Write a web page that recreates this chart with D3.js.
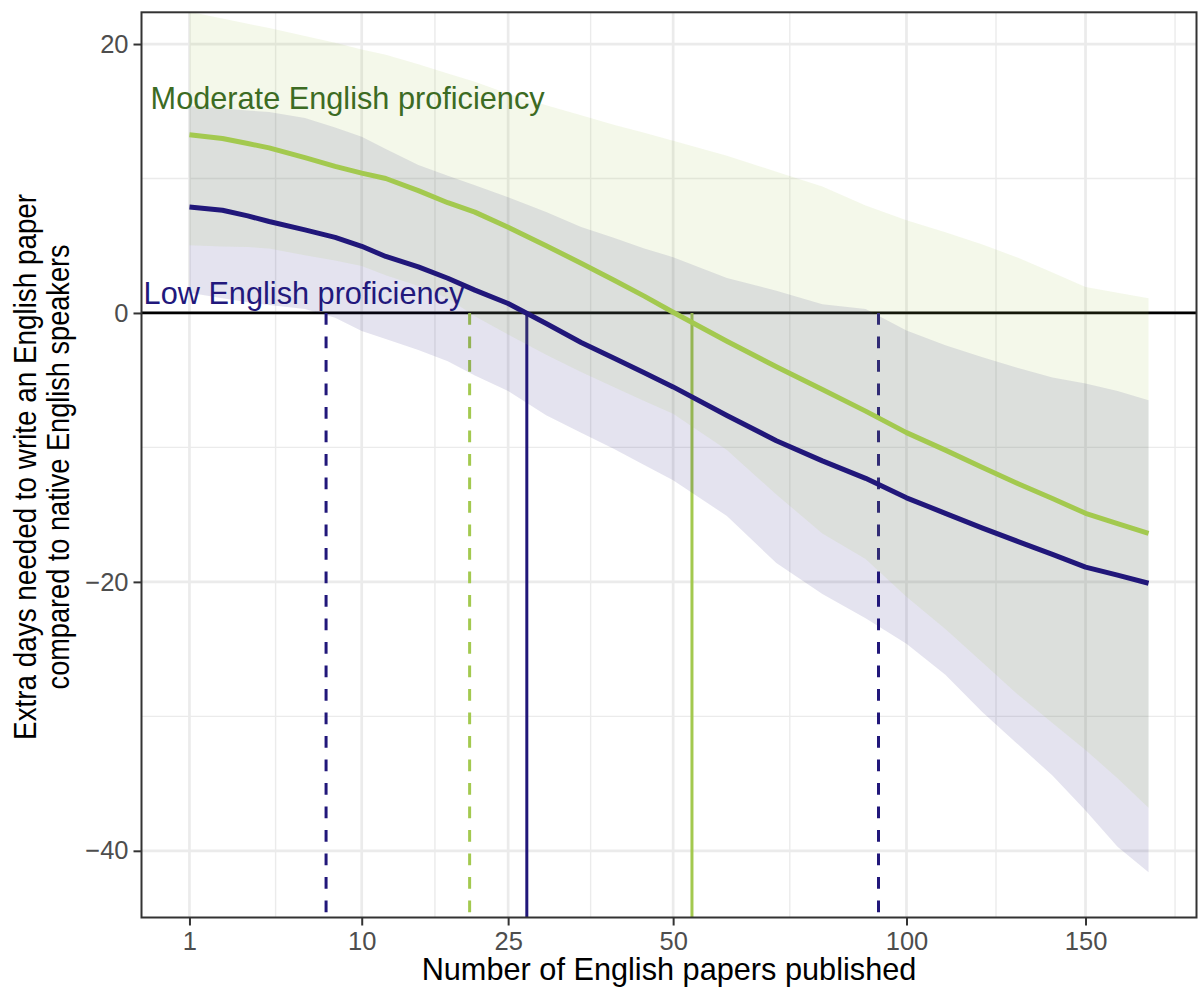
<!DOCTYPE html>
<html>
<head>
<meta charset="utf-8">
<script src="https://cdn.jsdelivr.net/npm/d3@7"></script>
<style>
  body { margin: 0; background: #fff; }
  svg { display: block; }
  text { font-family: "Liberation Sans", Arial, Helvetica, sans-serif; }
</style>
</head>
<body>
<svg id="chart" width="1201" height="996"></svg>
<script>
// Number of English papers published (x) and the modelled extra days (y)
const papers = [1, 2, 3, 4, 6, 8, 10, 12, 15, 18, 21, 25, 30, 35, 40, 45, 50, 60, 70, 80, 90, 100, 110, 120, 130, 140, 150, 160, 170];

const moderateEstimate = [13.26, 12.97, 12.6, 12.28, 11.55, 10.9, 10.4, 10.0, 9.1, 8.2, 7.5, 6.37, 5.0, 3.7, 2.45, 1.25, 0.05, -2.1, -4.0, -5.7, -7.3, -8.9, -10.2, -11.5, -12.7, -13.8, -14.9, -15.66, -16.4];
const moderateUpper    = [22.4, 21.9, 21.5, 21.2, 20.6, 20.1, 19.6, 19.2, 18.5, 17.8, 17.2, 16.3, 15.45, 14.7, 14.0, 13.4, 12.8, 11.7, 10.5, 9.4, 8.0, 6.9, 6.0, 5.1, 4.1, 3.0, 1.93, 1.5, 1.1];
const moderateLower    = [5.03, 4.95, 4.9, 4.8, 4.3, 3.9, 3.5, 2.8, 2.0, 1.1, -0.25, -1.6, -3.1, -4.4, -5.5, -6.55, -7.5, -10.2, -13.5, -16.4, -18.3, -21.1, -23.5, -26.0, -28.4, -30.5, -32.5, -34.6, -36.8];

const lowEstimate = [7.88, 7.64, 7.22, 6.8, 6.18, 5.62, 4.96, 4.2, 3.43, 2.58, 1.7, 0.7, -0.79, -2.2, -3.35, -4.45, -5.5, -7.62, -9.5, -11.0, -12.3, -13.75, -14.9, -16.0, -17.0, -17.95, -18.9, -19.5, -20.1];
const lowUpper    = [15.4, 15.2, 15.05, 14.95, 14.5, 13.8, 13.1, 12.2, 11.0, 10.2, 9.5, 8.6, 7.5, 6.4, 5.6, 4.8, 4.15, 2.6, 1.65, 0.65, 0.3, -1.3, -2.4, -3.3, -4.1, -4.8, -5.25, -5.8, -6.5];
const lowLower    = [1.5, 1.1, 0.8, 0.6, 0.3, -0.35, -1.35, -1.94, -2.75, -3.6, -4.65, -5.8, -7.6, -8.9, -10.1, -11.3, -12.44, -15.1, -18.6, -20.9, -22.7, -24.6, -26.9, -29.7, -32.1, -34.4, -37.0, -39.7, -41.6];

// Papers at which each curve (and its interval bounds) reaches zero extra days
const lowBreakEven      = [27.4];        // estimate
const lowBreakEvenCI    = [7.37, 93.1];  // lower / upper bound
const moderateBreakEven   = [53.4];
const moderateBreakEvenCI = [20.4];      // upper bound lies beyond the data

const groupLabels = ["Moderate English proficiency", "Low English proficiency"];

const xTicks = [1, 10, 25, 50, 100, 150];
const yTicks = [-40, -20, 0, 20];
const yLimits = [-41.9, 19.3];

const xTitle = "Number of English papers published";
const yTitle = ["Extra days needed to write an English paper", "compared to native English speakers"];

// ---------------------------------------------------------------------------
const svg = d3.select("#chart");
const panel = { left: 141.5, right: 1196.5, top: 12.3, bottom: 917.5 };

const colModerate = "#a3c94f";
const colLow = "#21177a";

// square-root x scale with 5% expansion in transformed space
const sLo = Math.sqrt(d3.min(papers)), sHi = Math.sqrt(d3.max(papers));
const sPad = (sHi - sLo) * 0.05;
const x = d3.scaleSqrt()
  .domain([(sLo - sPad) ** 2, (sHi + sPad) ** 2])
  .range([panel.left, panel.right]);

const yPad = (yLimits[1] - yLimits[0]) * 0.05;
const y = d3.scaleLinear()
  .domain([yLimits[0] - yPad, yLimits[1] + yPad])
  .range([panel.bottom, panel.top]);

// minor breaks: midpoints between majors in transformed space
const sMajors = xTicks.map(Math.sqrt);
const sExt = [sMajors[0] - (sMajors[1] - sMajors[0]), ...sMajors,
  sMajors[sMajors.length - 1] + (sMajors[sMajors.length - 1] - sMajors[sMajors.length - 2])];
const xMinor = d3.pairs(sExt).map(([a, b]) => ((a + b) / 2) ** 2)
  .filter(v => v > 0 && x(v) >= panel.left && x(v) <= panel.right);
const yExt = [yTicks[0] - 20, ...yTicks, yTicks[yTicks.length - 1] + 20];
const yMinor = d3.pairs(yExt).map(([a, b]) => (a + b) / 2)
  .filter(v => y(v) >= panel.top && y(v) <= panel.bottom);

svg.append("defs").append("clipPath").attr("id", "panel-clip")
  .append("rect")
  .attr("x", panel.left).attr("y", panel.top)
  .attr("width", panel.right - panel.left).attr("height", panel.bottom - panel.top);

// grid
const grid = svg.append("g").attr("stroke", "#ebebeb");
grid.selectAll(".xminor").data(xMinor).join("line")
  .attr("x1", d => x(d)).attr("x2", d => x(d))
  .attr("y1", panel.top).attr("y2", panel.bottom).attr("stroke-width", 1.4);
grid.selectAll(".yminor").data(yMinor).join("line")
  .attr("y1", d => y(d)).attr("y2", d => y(d))
  .attr("x1", panel.left).attr("x2", panel.right).attr("stroke-width", 1.4);
grid.selectAll(".xmajor").data(xTicks).join("line")
  .attr("x1", d => x(d)).attr("x2", d => x(d))
  .attr("y1", panel.top).attr("y2", panel.bottom).attr("stroke-width", 2.7);
grid.selectAll(".ymajor").data(yTicks).join("line")
  .attr("y1", d => y(d)).attr("y2", d => y(d))
  .attr("x1", panel.left).attr("x2", panel.right).attr("stroke-width", 2.7);

const plot = svg.append("g").attr("clip-path", "url(#panel-clip)");

// zero reference
plot.append("line")
  .attr("x1", panel.left).attr("x2", panel.right)
  .attr("y1", y(0)).attr("y2", y(0))
  .attr("stroke", "#000").attr("stroke-width", 2.8);

// break-even markers, dropping from zero to the bottom of the panel
function drop(values, colour, dashed) {
  plot.selectAll(null).data(values).join("line")
    .attr("x1", d => x(d)).attr("x2", d => x(d))
    .attr("y1", y(0)).attr("y2", panel.bottom)
    .attr("stroke", colour).attr("stroke-width", 3)
    .attr("stroke-dasharray", dashed ? "11.7 11.8" : null);
}
drop(lowBreakEvenCI, colLow, true);
drop(moderateBreakEvenCI, colModerate, true);
drop(lowBreakEven, colLow, false);
drop(moderateBreakEven, colModerate, false);

// confidence ribbons
const rows = (est, lo, hi) => papers.map((p, i) => ({ p, est: est[i], lo: lo[i], hi: hi[i] }));
const lowRows = rows(lowEstimate, lowLower, lowUpper);
const modRows = rows(moderateEstimate, moderateLower, moderateUpper);

const band = d3.area().x(d => x(d.p)).y0(d => y(d.lo)).y1(d => y(d.hi));
plot.append("path").datum(lowRows).attr("d", band)
  .attr("fill", colLow).attr("fill-opacity", 0.12);
plot.append("path").datum(modRows).attr("d", band)
  .attr("fill", colModerate).attr("fill-opacity", 0.12);

// estimate curves
const curve = d3.line().x(d => x(d.p)).y(d => y(d.est));
plot.append("path").datum(modRows).attr("d", curve)
  .attr("fill", "none").attr("stroke", colModerate).attr("stroke-width", 5)
  .attr("stroke-linejoin", "round");
plot.append("path").datum(lowRows).attr("d", curve)
  .attr("fill", "none").attr("stroke", colLow).attr("stroke-width", 5)
  .attr("stroke-linejoin", "round");

// group labels
svg.append("text").attr("x", x(0.262)).attr("y", y(16)).attr("dy", "0.36em")
  .attr("font-size", 30.7).attr("fill", "#3c6b23").text(groupLabels[0]);
svg.append("text").attr("x", x(0.18)).attr("y", y(1.5)).attr("dy", "0.36em")
  .attr("font-size", 30.7).attr("fill", "#22187c").text(groupLabels[1]);

// panel border
svg.append("rect")
  .attr("x", panel.left).attr("y", panel.top)
  .attr("width", panel.right - panel.left).attr("height", panel.bottom - panel.top)
  .attr("fill", "none").attr("stroke", "#333").attr("stroke-width", 2);

// axes
const xAxis = svg.append("g").attr("transform", `translate(0,${panel.bottom})`)
  .call(d3.axisBottom(x).tickValues(xTicks).tickSize(8).tickPadding(6).tickFormat(d3.format("d")));
const yAxis = svg.append("g").attr("transform", `translate(${panel.left},0)`)
  .call(d3.axisLeft(y).tickValues(yTicks).tickSize(8).tickPadding(5));
[xAxis, yAxis].forEach(g => {
  g.select(".domain").remove();
  g.selectAll(".tick line").attr("stroke", "#333").attr("stroke-width", 2);
  g.selectAll(".tick text").attr("font-size", 25.5).attr("fill", "#4d4d4d")
    .attr("font-family", "\"Liberation Sans\", Arial, sans-serif");
});

// axis titles
svg.append("text")
  .attr("x", (panel.left + panel.right) / 2).attr("y", 980)
  .attr("text-anchor", "middle").attr("font-size", 30.7).attr("fill", "#000")
  .text(xTitle);

const yMid = (panel.top + panel.bottom) / 2 + 2;
const yTitleG = svg.append("g").attr("transform", `translate(0,${yMid}) rotate(-90)`);
const lineLengths = [546, 445];
yTitle.forEach((t, i) => {
  yTitleG.append("text")
    .attr("x", 0).attr("y", 36 + i * 32.5)
    .attr("text-anchor", "middle").attr("font-size", 32).attr("fill", "#000")
    .attr("textLength", lineLengths[i]).attr("lengthAdjust", "spacingAndGlyphs")
    .text(t);
});
</script>
</body>
</html>
